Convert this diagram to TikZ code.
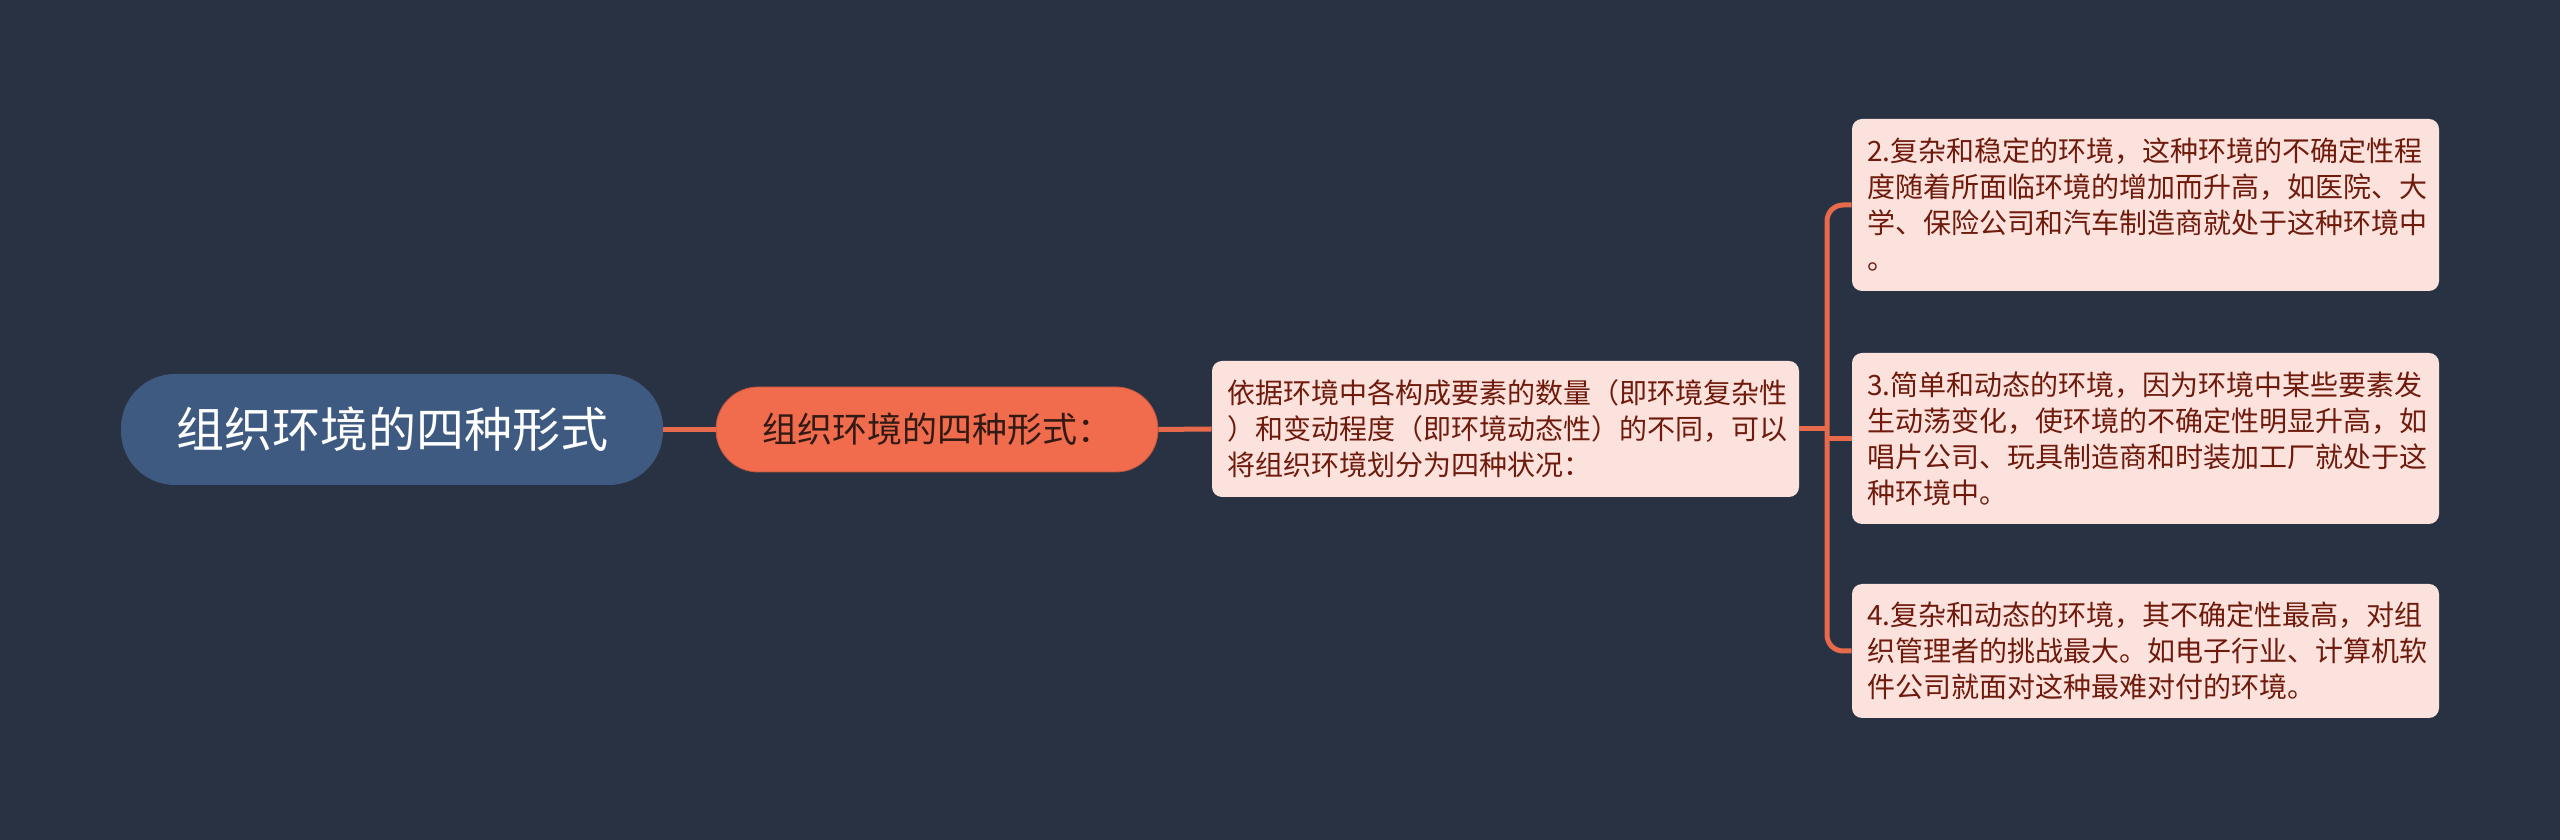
\documentclass[tikz,border=0pt]{standalone}
\usepackage{fontspec}
\setmainfont{Noto Sans CJK SC}
\definecolor{bgC}{RGB}{40,50,66}
\definecolor{rootC}{RGB}{62,90,128}
\definecolor{orangeC}{RGB}{240,108,77}
\definecolor{lineC}{RGB}{232,106,76}
\definecolor{pinkC}{RGB}{252,226,220}
\definecolor{redtxt}{RGB}{110,26,12}
\definecolor{darktxt}{RGB}{50,26,20}
\begin{document}
\begin{tikzpicture}[x=1pt,y=1pt,
  conn/.style={draw=lineC, line width=2.5pt},
  rootbox/.style={fill=rootC, rounded corners=27pt, text=white,
    font=\fontsize{24pt}{28pt}\selectfont, minimum width=271pt,
    minimum height=55.5pt, inner sep=0pt},
  subbox/.style={fill=orangeC, draw=orangeC!80!black, line width=0.4pt, rounded corners=21pt, text=darktxt,
    font=\fontsize{17.5pt}{21pt}\selectfont, minimum width=221pt,
    minimum height=42.5pt, inner sep=0pt},
  leafbox/.style={fill=pinkC, rounded corners=5pt, text=redtxt,
    font=\fontsize{14pt}{18pt}\selectfont, text width=278.5pt,
    inner xsep=7.5pt, inner ysep=0pt, align=left}
]
\fill[bgC] (0,0) rectangle (1280,420);
\useasboundingbox (0,0) rectangle (1280,420);

\node[rootbox] (root) at (196,205.25) {组织环境的四种形式};
\node[subbox] (sub) at (468.5,205.25) {组织环境的四种形式：};
\node[leafbox, minimum height=68pt] (mid) at (752.75,205.5)
  {依据环境中各构成要素的数量（即环境复杂性\\）和变动程度（即环境动态性）的不同，可以\\将组织环境划分为四种状况：};
\node[leafbox, minimum height=86pt] (a) at (1072.75,317.5)
  {2.复杂和稳定的环境，这种环境的不确定性程\\度随着所面临环境的增加而升高，如医院、大\\学、保险公司和汽车制造商就处于这种环境中\\。};
\node[leafbox, minimum height=85.5pt] (b) at (1072.75,200.75)
  {3.简单和动态的环境，因为环境中某些要素发\\生动荡变化，使环境的不确定性明显升高，如\\唱片公司、玩具制造商和时装加工厂就处于这\\种环境中。};
\node[leafbox, minimum height=67pt] (c) at (1072.75,94.5)
  {4.复杂和动态的环境，其不确定性最高，对组\\织管理者的挑战最大。如电子行业、计算机软\\件公司就面对这种最难对付的环境。};

\coordinate (j) at (913.5,205.5);
\coordinate (jb) at (913.5,200.75);
\draw[conn] (root.east) -- (sub.west);
\draw[conn] (sub.east) -- (mid.west);
\draw[conn] (mid.east) -- (j);
\draw[conn, rounded corners=8pt] (j) |- (a.west);
\draw[conn] (jb) -- (b.west);
\draw[conn, rounded corners=8pt] (j) |- (c.west);
\end{tikzpicture}
\end{document}
